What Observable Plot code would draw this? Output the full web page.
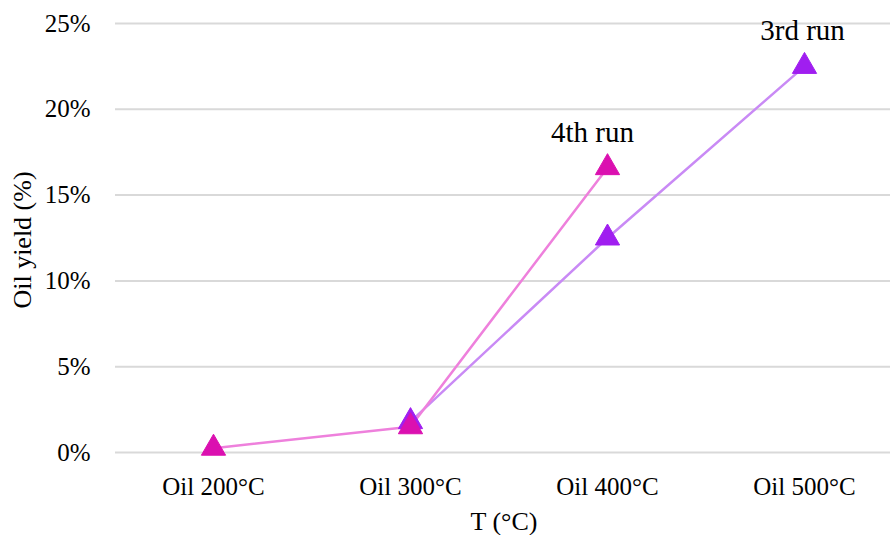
<!DOCTYPE html>
<html>
<head>
<meta charset="utf-8">
<script src="https://cdn.jsdelivr.net/npm/d3@7"></script>
<script src="https://cdn.jsdelivr.net/npm/@observablehq/plot@0.6"></script>
<style>
  html, body { margin: 0; padding: 0; background: #fff; }
  #chart svg { display: block; }
</style>
</head>
<body>
<div id="chart"></div>
<script>
const categories = ["Oil 200°C", "Oil 300°C", "Oil 400°C", "Oil 500°C"];
const run3Cats = ["Oil 300°C", "Oil 400°C", "Oil 500°C"];
const run3Values = [1.8, 12.5, 22.5];
const run4Cats = ["Oil 200°C", "Oil 300°C", "Oil 400°C"];
const run4Values = [0.25, 1.5, 16.6];
const yTicks = [0, 5, 10, 15, 20, 25];
const seriesNames = ["3rd run", "4th run"];

const run3 = run3Cats.map((c, i) => ({cat: c, v: run3Values[i], s: seriesNames[0]}));
const run4 = run4Cats.map((c, i) => ({cat: c, v: run4Values[i], s: seriesNames[1]}));

const FF = "Liberation Serif";

const chart = Plot.plot({
  width: 890,
  height: 535,
  marginLeft: 115,
  marginRight: 0,
  marginTop: 23,
  marginBottom: 83,
  style: {fontFamily: FF, fontSize: "24px", color: "#000", background: "#fff"},
  x: {type: "point", domain: categories, range: [213, 804], padding: 0, label: null},
  y: {domain: [0, 25], label: null},
  marks: [
    Plot.gridY(yTicks, {stroke: "#d9d9d9", strokeOpacity: 1, strokeWidth: 2}),
    Plot.axisY(yTicks, {tickSize: 0, tickPadding: 25, tickFormat: d => d + "%", fontSize: 25, fontFamily: FF, fill: "#000", label: null}),
    Plot.axisX(categories, {tickSize: 0, tickPadding: 25, fontSize: 25, fontFamily: FF, fill: "#000", label: null}),
    Plot.text(["Oil yield (%)"], {frameAnchor: "left", textAnchor: "middle", lineAnchor: "middle", dx: -93, dy: 2, rotate: -90, fontSize: 26, fontFamily: FF, fill: "#000"}),
    Plot.text(["T (°C)"], {frameAnchor: "bottom", textAnchor: "middle", lineAnchor: "middle", dy: 69, dx: 1, fontSize: 26, fontFamily: FF, fill: "#000"}),
    Plot.line(run3, {x: "cat", y: "v", stroke: "#c98af5", strokeWidth: 2.5}),
    Plot.line(run4, {x: "cat", y: "v", stroke: "#ee80dc", strokeWidth: 2.5}),
    Plot.dot(run3, {x: "cat", y: "v", symbol: "triangle", r: 9, fill: "#a01ef0", stroke: "#a01ef0", strokeWidth: 1}),
    Plot.dot(run4, {x: "cat", y: "v", symbol: "triangle", r: 9, fill: "#db10b0", stroke: "#db10b0", strokeWidth: 1}),
    Plot.text([run3[run3.length - 1]], {x: "cat", y: "v", text: "s", dy: -36, dx: -2, fontSize: 29, fontFamily: FF, fill: "#000"}),
    Plot.text([run4[run4.length - 1]], {x: "cat", y: "v", text: "s", dy: -35, dx: -15, fontSize: 29, fontFamily: FF, fill: "#000"})
  ]
});
document.getElementById("chart").appendChild(chart);
</script>
</body>
</html>
